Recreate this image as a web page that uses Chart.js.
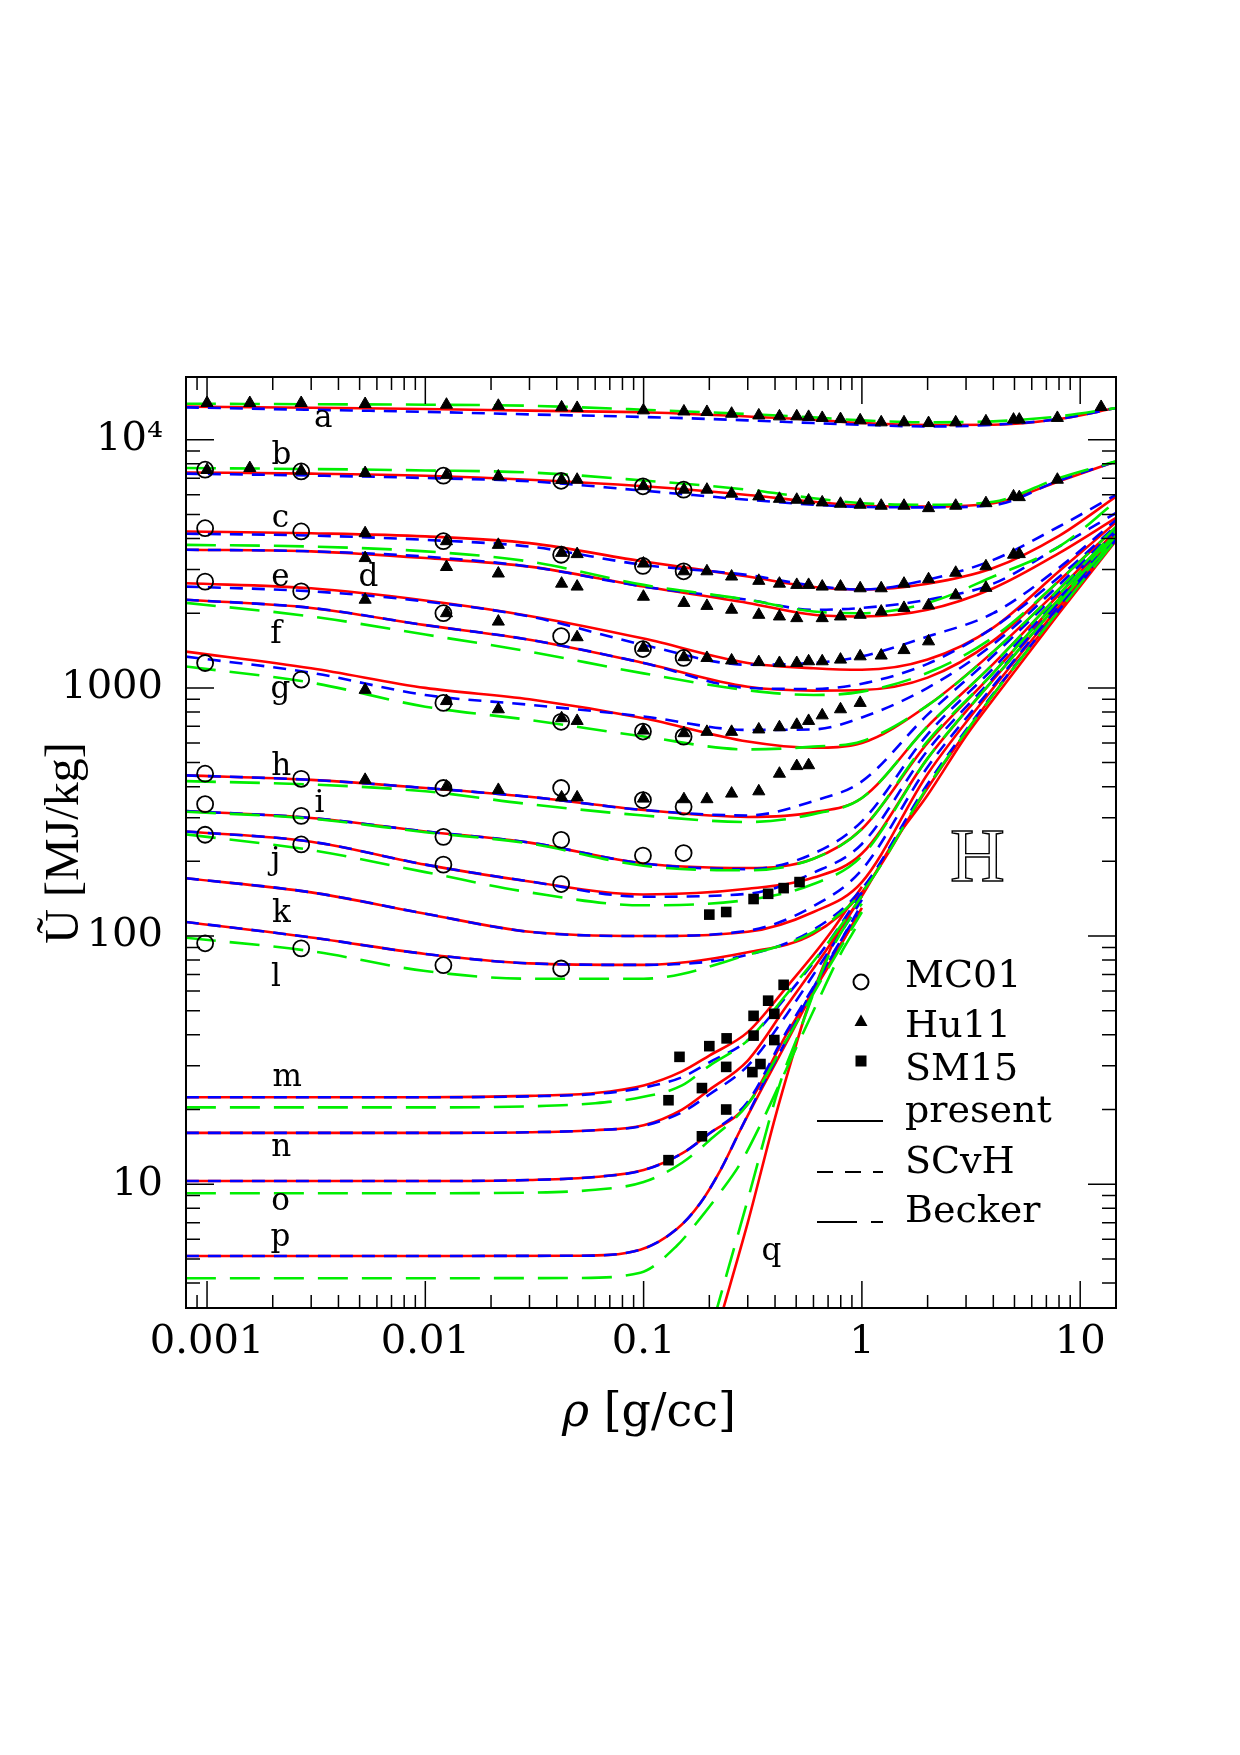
<!DOCTYPE html>
<html>
<head>
<meta charset="utf-8">
<script src="https://cdn.jsdelivr.net/npm/chart.js@4.4.0/dist/chart.umd.min.js"></script>
<style>
  html, body { margin: 0; padding: 0; background: #fff; }
  canvas { display: block; }
</style>
</head>
<body>
<canvas id="hChart" width="1240" height="1755"></canvas>
<script>
// Hydrogen internal energy vs density, isotherms a..q

// density grids (g/cc)
const rhoGrid = [0.0008, 0.003, 0.01, 0.03, 0.1, 0.3, 0.6, 1, 2, 4, 8, 14.6];
const lowRho = [0.0008, 0.01, 0.03, 0.06, 0.1, 0.15, 0.2, 0.3, 0.45, 0.7, 1.0];
const pRho = [0.0008, 0.01, 0.05, 0.0966, 0.142, 0.182, 0.225, 0.277, 0.35, 0.45, 0.6, 0.8, 0.95];
const qRho = [0.225, 0.3, 0.4, 0.476, 0.558, 0.69, 0.8, 1.0, 1.4, 2, 3, 4, 8, 14.6];
const qBeckRho = [0.21, 0.3, 0.43, 0.5, 0.69, 0.85, 1.0];

// U [MJ/kg] on rhoGrid: present / SCvH / Becker
const presA = [13600, 13450, 13300, 13100, 12900, 12400, 12040, 11670, 11460, 11490, 12120, 13420];
const scvhA = [13500, 13200, 12950, 12650, 12350, 11970, 11670, 11490, 11310, 11490, 12120, 13420];
const beckA = [13970, 13900, 13840, 13700, 13210, 12690, 12300, 11970, 11750, 11860, 12420, 13420];
const presB = [7380, 7300, 7160, 6900, 6490, 5990, 5620, 5420, 5380, 5550, 6800, 8180];
const scvhB = [7300, 7170, 7010, 6800, 6230, 5730, 5470, 5360, 5340, 5450, 6850, 8180];
const beckB = [7690, 7620, 7520, 7380, 6850, 6290, 5810, 5550, 5470, 5620, 7010, 8180];
const presC = [4270, 4200, 4080, 3830, 3230, 2810, 2550, 2490, 2630, 3040, 4100, 5900];
const scvhC = [4180, 4110, 3950, 3710, 3130, 2850, 2580, 2490, 2730, 3280, 4470, 6000];
const presD = [3604, 3550, 3335, 3080, 2560, 2200, 1970, 1940, 2065, 2520, 3490, 4840];
const scvhD = [3604, 3550, 3380, 3080, 2560, 2266, 2065, 2100, 2266, 2630, 3710, 5070];
const beckD = [3770, 3710, 3550, 3230, 2600, 2266, 2030, 2000, 2200, 2810, 3710, 5640];
const presE = [2640, 2520, 2250, 1950, 1580, 1260, 1200, 1183, 1300, 1750, 2950, 4650];
const scvhE = [2560, 2450, 2230, 1940, 1490, 1240, 1260, 1340, 1610, 2000, 3050, 4750];
const presF = [2266, 2100, 1790, 1563, 1260, 1010, 975, 980, 1100, 1550, 2700, 4450];
const scvhF = [2266, 2100, 1790, 1563, 1260, 1000, 990, 1040, 1250, 1750, 2800, 4500];
const beckF = [2200, 1940, 1640, 1400, 1144, 978, 936, 966, 1150, 1600, 2700, 4450];
const presG = [1400, 1200, 1000, 900, 755, 608, 574, 600, 850, 1400, 2500, 4300];
const scvhG = [1337, 1150, 936, 855, 767, 677, 680, 760, 1000, 1500, 2600, 4350];
const beckG = [1219, 1050, 840, 743, 637, 565, 580, 610, 850, 1400, 2500, 4300];
const presH = [444, 426, 395, 364, 322, 302, 315, 360, 700, 1250, 2380, 4200];
const scvhH = [444, 426, 395, 364, 322, 306, 350, 420, 780, 1350, 2450, 4250];
const beckH = [421, 408, 383, 340, 306, 288, 310, 360, 700, 1250, 2380, 4200];
const presI = [319, 299, 264, 238, 196, 188, 205, 270, 600, 1150, 2280, 4100];
const scvhI = [319, 299, 264, 238, 196, 186, 215, 290, 650, 1200, 2300, 4100];
const beckI = [317, 297, 262, 236, 192, 184, 205, 270, 610, 1150, 2280, 4100];
const presJ = [264, 240, 194, 166, 147, 155, 172, 215, 520, 1080, 2200, 4050];
const scvhJ = [264, 240, 194, 166, 144, 148, 180, 235, 560, 1100, 2220, 4050];
const beckJ = [257, 222, 181, 150, 133, 140, 162, 210, 520, 1080, 2200, 4050];
const presK = [171, 150, 123, 104, 100, 104, 125, 165, 450, 1000, 2120, 4000];
const scvhK = [171, 150, 123, 104, 100, 105, 132, 185, 480, 1020, 2140, 4000];
const presL = [114, 98.7, 84.7, 77.6, 76.5, 86, 102, 150, 395, 940, 2050, 3960];
const scvhL = [114, 98.7, 84.7, 77.6, 76.5, 84, 106, 155, 410, 950, 2060, 3960];
const beckL = [98.4, 86.9, 72.3, 67.3, 67.3, 84, 104, 150, 400, 940, 2050, 3960];

// low temperature isotherms (lowRho)
const presM = [22.4, 22.4, 22.7, 23.3, 25, 28.5, 33, 41, 62, 100, 158];
const scvhM = [22.4, 22.4, 22.6, 23.1, 24.5, 27, 31, 38, 57, 94, 150];
const beckM = [20.4, 20.4, 20.6, 21.2, 22.5, 25, 30, 38, 58, 94, 145];
const presN = [16.1, 16.1, 16.2, 16.5, 17.3, 20, 24, 31.5, 52, 90, 145];
const scvhN = [16.1, 16.1, 16.2, 16.5, 17.2, 19.5, 23, 30, 48, 86, 140];
const presO = [10.3, 10.3, 10.4, 10.7, 11.4, 13.3, 16, 21, 40, 75, 130];
const scvhO = [10.3, 10.3, 10.4, 10.7, 11.4, 13.3, 16, 21.5, 41, 78, 135];
const beckO = [9.2, 9.2, 9.25, 9.5, 10.2, 12.2, 15, 21, 38, 74, 125];
// pRho
const presP = [5.14, 5.14, 5.15, 5.45, 6.6, 8.4, 11.4, 16.5, 24.5, 37, 60, 93, 118];
const scvhP = [5.14, 5.14, 5.15, 5.45, 6.6, 8.4, 11.4, 16.5, 25, 38, 62, 96, 122];
const beckP = [4.18, 4.18, 4.19, 4.4, 5.65, 7.3, 9.3, 12.1, 18, 29, 50, 85, 110];
// qRho / qBeckRho
const presQ = [2.88, 7.0, 18.5, 31.6, 50, 82, 108, 145, 240, 370, 640, 900, 2000, 3920];
const beckQ = [2.86, 8.66, 26.9, 38, 80, 112, 135];

// symbols: [rho, U]
const mc01Points = [
  [0.00098, 7570], [0.0027, 7450], [0.0121, 7160], [0.0419, 6830], [0.0993, 6490], [0.1525, 6290],
  [0.00098, 4400], [0.0027, 4270], [0.0121, 3900], [0.0419, 3440], [0.0993, 3100], [0.1525, 2950],
  [0.00098, 2680], [0.0027, 2450], [0.0121, 2000], [0.0419, 1616], [0.0993, 1434], [0.1525, 1320],
  [0.00098, 1260], [0.0027, 1080], [0.0121, 870], [0.0419, 730], [0.0993, 667], [0.1525, 636],
  [0.00098, 451], [0.0027, 430], [0.0121, 395], [0.0419, 395], [0.0993, 353], [0.1525, 332],
  [0.00098, 340], [0.0027, 305], [0.0121, 251], [0.0419, 244], [0.0993, 211], [0.1525, 216],
  [0.00098, 256], [0.0027, 234], [0.0121, 194], [0.0419, 162],
  [0.00098, 93.5], [0.0027, 89.2], [0.0121, 76.3], [0.0419, 74]
];
const hu11Points = [
  [0.001, 14060], [0.00157, 14060], [0.0027, 14060], [0.0053, 13930], [0.0125, 13840], [0.0216, 13700],
  [0.0421, 13500], [0.0496, 13430], [0.0998, 13130], [0.153, 13000], [0.195, 12940], [0.253, 12730],
  [0.337, 12530], [0.419, 12420], [0.503, 12420], [0.57, 12360], [0.658, 12240], [0.798, 12110],
  [0.982, 11970], [1.226, 11750], [1.559, 11750], [2.02, 11670], [2.69, 11750], [3.70, 11860],
  [4.95, 12050], [5.26, 12050], [7.86, 12240], [12.47, 13550],
  [0.001, 7550], [0.00157, 7690], [0.0027, 7500], [0.0053, 7340], [0.0125, 7200], [0.0216, 7110],
  [0.0421, 6880], [0.0496, 6900], [0.0998, 6500], [0.153, 6290], [0.195, 6290], [0.253, 6060],
  [0.337, 5910], [0.419, 5780], [0.503, 5730], [0.57, 5690], [0.658, 5590], [0.798, 5520],
  [0.982, 5470], [1.226, 5420], [1.559, 5420], [2.02, 5300], [2.69, 5420], [3.70, 5550],
  [4.95, 5910], [5.26, 5870], [7.86, 6900],
  [0.0053, 4200], [0.0125, 3900], [0.0216, 3770], [0.0421, 3500], [0.0496, 3460], [0.0998, 3170],
  [0.153, 2950], [0.195, 2950], [0.253, 2810], [0.337, 2700], [0.419, 2630], [0.503, 2600],
  [0.57, 2600], [0.658, 2560], [0.798, 2560], [0.982, 2520], [1.226, 2520], [1.559, 2630],
  [2.02, 2740], [2.69, 2910], [3.70, 3090], [4.95, 3440], [5.26, 3460],
  [0.0053, 3335], [0.0125, 3070], [0.0216, 2890], [0.0421, 2630], [0.0496, 2560], [0.0998, 2330],
  [0.153, 2200], [0.195, 2140], [0.253, 2065], [0.337, 1970], [0.419, 1940], [0.503, 1910],
  [0.658, 1910], [0.798, 1940], [0.982, 1970], [1.226, 2030], [1.559, 2100], [2.02, 2150],
  [2.69, 2360], [3.70, 2530],
  [0.0053, 2266], [0.0125, 2000], [0.0216, 1850], [0.0496, 1600], [0.0998, 1450], [0.153, 1330],
  [0.195, 1320], [0.253, 1290], [0.337, 1270], [0.419, 1260], [0.503, 1260], [0.57, 1280],
  [0.658, 1280], [0.798, 1300], [0.982, 1340], [1.226, 1350], [1.559, 1420], [2.02, 1540],
  [0.0053, 982], [0.0125, 885], [0.0216, 820], [0.0421, 755], [0.0496, 736], [0.0998, 673],
  [0.153, 657], [0.195, 665], [0.253, 665], [0.337, 680], [0.419, 694], [0.503, 710],
  [0.57, 736], [0.658, 775], [0.798, 820], [0.982, 870],
  [0.0053, 426], [0.0125, 400], [0.0216, 388], [0.0421, 362], [0.0496, 362], [0.0998, 358],
  [0.153, 356], [0.195, 356], [0.253, 375], [0.337, 383], [0.419, 451], [0.503, 484], [0.57, 488]
];
const sm15Points = [
  [0.2, 122], [0.239, 125], [0.319, 141], [0.372, 148], [0.438, 156], [0.518, 165],
  [0.438, 63.6], [0.372, 54.9], [0.319, 47.7], [0.397, 48.6], [0.319, 39.7], [0.397, 38.1],
  [0.24, 38.7], [0.2, 36.0], [0.146, 32.6], [0.13, 21.8], [0.185, 24.4], [0.239, 29.7],
  [0.315, 28.3], [0.343, 30.5], [0.239, 20.0], [0.185, 15.6], [0.13, 12.5]
];

// isotherm labels: [text, rho, U]
const curveLabels = [
  ['a', 0.00341, 11280], ['b', 0.00219, 8000], ['c', 0.00217, 4460], ['d', 0.00548, 2580],
  ['e', 0.00217, 2580], ['f', 0.00207, 1518], ['g', 0.00217, 912], ['h', 0.00219, 446],
  ['i', 0.00327, 316], ['j', 0.00206, 186], ['k', 0.00219, 114], ['l', 0.00207, 62.8],
  ['m', 0.00233, 24.8], ['n', 0.00219, 12.97], ['o', 0.00217, 7.85], ['p', 0.00217, 5.62],
  ['q', 0.385, 4.94]
];
const elementLabel = ['H', 3.38, 200];

// axes
const xMin = 0.000801, xMax = 14.59;
const yMin = 3.171, yMax = 17895;
const xMajor = [0.001, 0.01, 0.1, 1, 10];
const xTickLabels = ['0.001', '0.01', '0.1', '1', '10'];
const yMajor = [10, 100, 1000, 10000];
const yTickLabels = ['10', '100', '1000', '10\u2074'];
const xDecades = [0.0001, 0.001, 0.01, 0.1, 1, 10];
const yDecades = [1, 10, 100, 1000, 10000];
const minorSteps = [2, 3, 4, 5, 6, 7, 8, 9];

const modelStyle = {
  present: { color: '#ff0000', dash: [], order: 3 },
  scvh: { color: '#0000ff', dash: [13, 9], order: 2 },
  becker: { color: '#00ee00', dash: [30, 14], order: 1 }
};

const curveTable = [
  [rhoGrid, presA, 'present'], [rhoGrid, scvhA, 'scvh'], [rhoGrid, beckA, 'becker'],
  [rhoGrid, presB, 'present'], [rhoGrid, scvhB, 'scvh'], [rhoGrid, beckB, 'becker'],
  [rhoGrid, presC, 'present'], [rhoGrid, scvhC, 'scvh'],
  [rhoGrid, presD, 'present'], [rhoGrid, scvhD, 'scvh'], [rhoGrid, beckD, 'becker'],
  [rhoGrid, presE, 'present'], [rhoGrid, scvhE, 'scvh'],
  [rhoGrid, presF, 'present'], [rhoGrid, scvhF, 'scvh'], [rhoGrid, beckF, 'becker'],
  [rhoGrid, presG, 'present'], [rhoGrid, scvhG, 'scvh'], [rhoGrid, beckG, 'becker'],
  [rhoGrid, presH, 'present'], [rhoGrid, scvhH, 'scvh'], [rhoGrid, beckH, 'becker'],
  [rhoGrid, presI, 'present'], [rhoGrid, scvhI, 'scvh'], [rhoGrid, beckI, 'becker'],
  [rhoGrid, presJ, 'present'], [rhoGrid, scvhJ, 'scvh'], [rhoGrid, beckJ, 'becker'],
  [rhoGrid, presK, 'present'], [rhoGrid, scvhK, 'scvh'],
  [rhoGrid, presL, 'present'], [rhoGrid, scvhL, 'scvh'], [rhoGrid, beckL, 'becker'],
  [lowRho, presM, 'present'], [lowRho, scvhM, 'scvh'], [lowRho, beckM, 'becker'],
  [lowRho, presN, 'present'], [lowRho, scvhN, 'scvh'],
  [lowRho, presO, 'present'], [lowRho, scvhO, 'scvh'], [lowRho, beckO, 'becker'],
  [pRho, presP, 'present'], [pRho, scvhP, 'scvh'], [pRho, beckP, 'becker'],
  [qRho, presQ, 'present'], [qBeckRho, beckQ, 'becker']
];

const toXY = (xs, ys) => xs.map((v, i) => ({ x: v, y: ys[i] }));
const pairsToXY = pts => pts.map(p => ({ x: p[0], y: p[1] }));

const datasets = curveTable.map(([rho, u, model]) => ({
  data: toXY(rho, u),
  showLine: true,
  borderColor: modelStyle[model].color,
  borderDash: modelStyle[model].dash,
  borderWidth: 2.6,
  pointRadius: 0,
  cubicInterpolationMode: 'monotone',
  order: modelStyle[model].order
}));

datasets.push({
  data: pairsToXY(mc01Points), pointStyle: 'circle', pointRadius: 8,
  pointBorderWidth: 1.8, pointBorderColor: '#000', pointBackgroundColor: 'rgba(0,0,0,0)', order: 0
});
datasets.push({
  data: pairsToXY(hu11Points), pointStyle: 'triangle', pointRadius: 7,
  pointBorderWidth: 1, pointBorderColor: '#000', pointBackgroundColor: '#000', order: 0
});
datasets.push({
  data: pairsToXY(sm15Points), pointStyle: 'rect', pointRadius: 7.5,
  pointBorderWidth: 0, pointBorderColor: '#000', pointBackgroundColor: '#000', order: 0
});

const SERIF = '"DejaVu Serif", serif';

// frame, inward ticks, labels, legend and axis titles
const decorPlugin = {
  id: 'decor',
  afterDraw(chart) {
    const { ctx, chartArea: a, scales: { x, y } } = chart;
    ctx.save();
    ctx.strokeStyle = '#000';
    ctx.fillStyle = '#000';

    // ticks
    ctx.lineWidth = 1.5;
    ctx.beginPath();
    const xTick = (v, len) => {
      if (v < x.min || v > x.max) return;
      const px = x.getPixelForValue(v);
      ctx.moveTo(px, a.bottom); ctx.lineTo(px, a.bottom - len);
      ctx.moveTo(px, a.top); ctx.lineTo(px, a.top + len);
    };
    const yTick = (v, len) => {
      if (v < y.min || v > y.max) return;
      const py = y.getPixelForValue(v);
      ctx.moveTo(a.left, py); ctx.lineTo(a.left + len, py);
      ctx.moveTo(a.right, py); ctx.lineTo(a.right - len, py);
    };
    xMajor.forEach(v => xTick(v, 27));
    xDecades.forEach(d => minorSteps.forEach(m => xTick(d * m, 13)));
    yMajor.forEach(v => yTick(v, 28));
    yDecades.forEach(d => minorSteps.forEach(m => yTick(d * m, 14)));
    ctx.stroke();

    // frame
    ctx.lineWidth = 2;
    ctx.strokeRect(a.left, a.top, a.right - a.left, a.bottom - a.top);

    // isotherm labels
    ctx.font = '31px ' + SERIF;
    ctx.textAlign = 'center';
    ctx.textBaseline = 'alphabetic';
    curveLabels.forEach(([t, r, u]) => {
      ctx.fillText(t, x.getPixelForValue(r), y.getPixelForValue(u));
    });

    // element symbol
    ctx.font = '76px "Liberation Serif", serif';
    ctx.textBaseline = 'middle';
    ctx.lineWidth = 1.4;
    ctx.strokeText(elementLabel[0], x.getPixelForValue(elementLabel[1]), y.getPixelForValue(elementLabel[2]));

    // legend
    const symX = 861, txtX = 905, lineX0 = 817, lineX1 = 883;
    ctx.font = '38px ' + SERIF;
    ctx.textAlign = 'left';
    ctx.textBaseline = 'alphabetic';
    const rows = [
      ['MC01', 'circle', 982, 987], ['Hu11', 'triangle', 1022, 1037], ['SM15', 'rect', 1061, 1080],
      ['present', [], 1121, 1122], ['SCvH', [16, 12], 1172, 1173], ['Becker', [40, 14], 1222, 1222]
    ];
    rows.forEach(([label, sym, sy, base]) => {
      ctx.fillText(label, txtX, base);
      ctx.beginPath();
      if (sym === 'circle') {
        ctx.lineWidth = 2;
        ctx.arc(symX, sy, 7.5, 0, Math.PI * 2);
        ctx.stroke();
      } else if (sym === 'triangle') {
        ctx.moveTo(symX, sy - 7.5); ctx.lineTo(symX + 6.5, sy + 4); ctx.lineTo(symX - 6.5, sy + 4);
        ctx.closePath(); ctx.fill();
      } else if (sym === 'rect') {
        ctx.rect(symX - 5.5, sy - 5.5, 11, 11); ctx.fill();
      } else {
        ctx.lineWidth = 2;
        ctx.setLineDash(sym);
        ctx.moveTo(lineX0, sy); ctx.lineTo(lineX1, sy);
        ctx.stroke();
        ctx.setLineDash([]);
      }
    });

    // x title
    ctx.font = 'italic 46px ' + SERIF;
    const w1 = ctx.measureText('\u03c1').width;
    ctx.font = '46px ' + SERIF;
    const w2 = ctx.measureText(' [g/cc]').width;
    const sx = 649 - (w1 + w2) / 2;
    ctx.font = 'italic 46px ' + SERIF;
    ctx.fillText('\u03c1', sx, 1426);
    ctx.font = '46px ' + SERIF;
    ctx.fillText(' [g/cc]', sx + w1, 1426);

    // y title, sized to its span in the figure
    const yTitle = '\u0168 [MJ/kg]';
    ctx.font = '44px "Liberation Serif", serif';
    const tw = ctx.measureText(yTitle).width;
    const fs = Math.min(48, 44 * 206 / tw);
    ctx.translate(65, 843);
    ctx.rotate(-Math.PI / 2);
    ctx.font = fs.toFixed(1) + 'px "Liberation Serif", serif';
    ctx.textAlign = 'center';
    ctx.textBaseline = 'middle';
    ctx.fillText(yTitle, 0, 0);
    ctx.restore();
  }
};

new Chart(document.getElementById('hChart'), {
  type: 'scatter',
  data: { datasets },
  options: {
    responsive: false,
    devicePixelRatio: 1,
    animation: false,
    events: [],
    layout: { padding: { top: 377, right: 124, left: 0, bottom: 0 } },
    plugins: { legend: { display: false }, tooltip: { enabled: false } },
    scales: {
      x: {
        type: 'logarithmic', min: xMin, max: xMax, bounds: 'data',
        grid: { display: false, drawTicks: false }, border: { display: false },
        ticks: {
          color: '#000', font: { family: 'DejaVu Serif', size: 40 }, padding: 11,
          autoSkip: false, maxRotation: 0,
          callback: (v, i) => xTickLabels[i]
        },
        afterBuildTicks: s => { s.ticks = xMajor.map(v => ({ value: v })); },
        afterFit: s => { s.height = 447; }
      },
      y: {
        type: 'logarithmic', min: yMin, max: yMax, bounds: 'data',
        grid: { display: false, drawTicks: false }, border: { display: false },
        ticks: {
          color: '#000', font: { family: 'DejaVu Serif', size: 40 }, padding: 23,
          autoSkip: false,
          callback: (v, i) => yTickLabels[i]
        },
        afterBuildTicks: s => { s.ticks = yMajor.map(v => ({ value: v })); },
        afterFit: s => { s.width = 186; }
      }
    }
  },
  plugins: [decorPlugin]
});
</script>
</body>
</html>
